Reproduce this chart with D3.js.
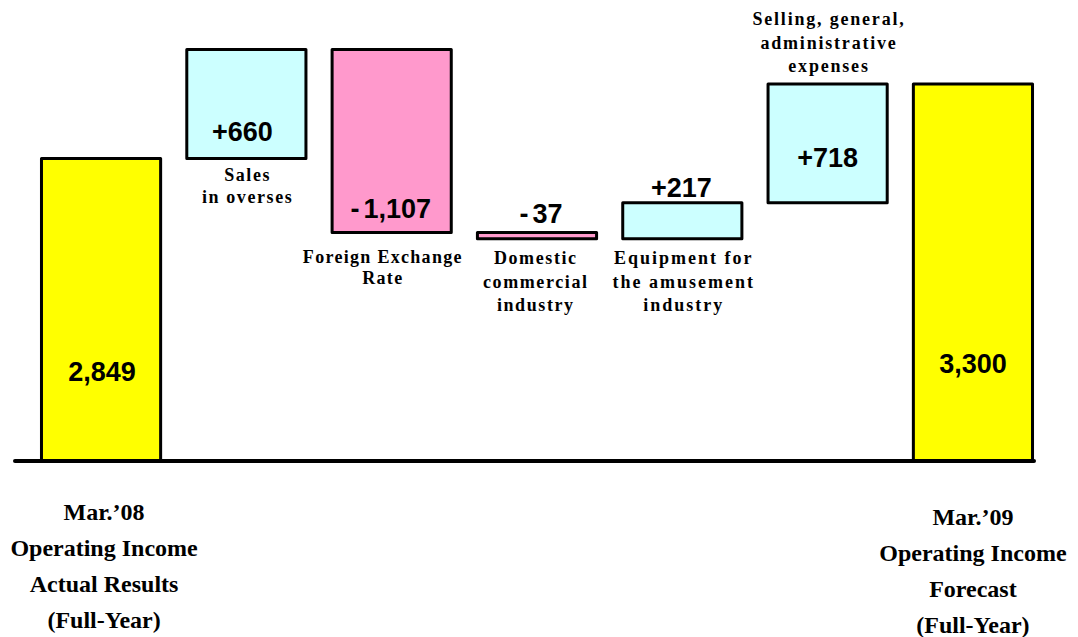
<!DOCTYPE html>
<html>
<head>
<meta charset="utf-8">
<script src="https://cdn.jsdelivr.net/npm/d3@7"></script>
<style>
  html, body { margin: 0; padding: 0; background: #ffffff; }
  svg { display: block; }
</style>
</head>
<body>
<svg id="chart" width="1078" height="637"></svg>
<script>
// Operating income bridge: Mar.'08 actual -> Mar.'09 forecast
const categories = [
  ["Mar.\u201908", "Operating Income", "Actual Results", "(Full-Year)"],
  ["Sales", "in overses"],
  ["Foreign Exchange", "Rate"],
  ["Domestic", "commercial", "industry"],
  ["Equipment for", "the amusement", "industry"],
  ["Selling, general,", "administrative", "expenses"],
  ["Mar.\u201909", "Operating Income", "Forecast", "(Full-Year)"]
];
const values = [2849, 660, -1107, -37, 217, 718, 3300];
const kinds = ["total", "delta", "delta", "delta", "delta", "delta", "total"];

// The value axis is truncated: the baseline stands for this level.
const axisFloor = 1020;

// ---- layout / style ----
const W = 1078, H = 637;
const baselineY = 461;
const fills = { total: "#FFFF00", up: "#CCFFFF", down: "#FF99CC" };
const numFont = "'Liberation Sans', Arial, Helvetica, sans-serif";
const serifFont = "'Liberation Serif', 'Times New Roman', Times, serif";

// value label placement, relative to the bar's bottom or top edge
const valueLabelPos = [
  { at: "bottom", dx: 1, dy: -80 },
  { at: "bottom", dx: -4, dy: -17.5 },
  { at: "bottom", dx: -1, dy: -15 },
  { at: "top", dx: 4, dy: -9.5 },
  { at: "top", dx: -1, dy: -6 },
  { at: "bottom", dx: 0, dy: -36 },
  { at: "bottom", dx: 0, dy: -88 }
];
// category label placement
const catLabelPos = [
  { at: "axis", dx: 3, dy: 59, lh: 36, size: 24, ls: 0 },
  { at: "below", dx: 0.5, dy: 22.5, lh: 22, size: 18, ls: 1.6 },
  { at: "below", dx: -9.5, dy: 30.5, lh: 21, size: 18, ls: 1.3 },
  { at: "below", dx: -2, dy: 25.5, lh: 23.5, size: 18, ls: 1.6 },
  { at: "below", dx: 0.5, dy: 25.5, lh: 23.5, size: 18, ls: 2.0 },
  { at: "above", dx: 0.5, dy: -12, lh: 23.5, size: 18, ls: 1.8 },
  { at: "axis", dx: 0, dy: 64, lh: 36, size: 24, ls: 0 }
];

// running totals -> bar extents
let running = 0;
const bars = values.map((v, i) => {
  let start, end;
  if (kinds[i] === "total") { start = axisFloor; end = v; running = v; }
  else { start = running; end = running + v; running = end; }
  return { i, v, kind: kinds[i], start, end, lo: Math.min(start, end), hi: Math.max(start, end) };
});

const x = d3.scaleBand()
  .domain(d3.range(values.length))
  .range([28.4, 1045.6])
  .paddingInner(0.18)
  .paddingOuter(0.09);

const y = d3.scaleLinear()
  .domain([axisFloor, d3.max(bars, d => d.hi)])
  .range([baselineY, 49.5]);

const svg = d3.select("#chart");
svg.append("rect").attr("width", W).attr("height", H).attr("fill", "#ffffff");

// bars
svg.append("g").selectAll("rect")
  .data(bars)
  .join("rect")
  .attr("x", d => x(d.i))
  .attr("width", x.bandwidth())
  .attr("y", d => y(d.hi))
  .attr("height", d => y(d.lo) - y(d.hi))
  .attr("fill", d => d.kind === "total" ? fills.total : (d.v >= 0 ? fills.up : fills.down))
  .attr("stroke", "#000")
  .attr("stroke-width", 3)
  .attr("stroke-linejoin", "round");

// baseline
svg.append("line")
  .attr("x1", 15).attr("x2", x(values.length - 1) + x.bandwidth() + 1.5)
  .attr("y1", y(axisFloor)).attr("y2", y(axisFloor))
  .attr("stroke", "#000")
  .attr("stroke-width", 4)
  .attr("stroke-linecap", "round");

// value labels
const fmt = d3.format(",");
const vl = svg.append("g").selectAll("text")
  .data(bars)
  .join("text")
  .attr("x", d => x(d.i) + x.bandwidth() / 2 + valueLabelPos[d.i].dx)
  .attr("y", d => (valueLabelPos[d.i].at === "top" ? y(d.hi) : y(d.lo)) + valueLabelPos[d.i].dy)
  .attr("text-anchor", "middle")
  .attr("font-family", numFont)
  .attr("font-weight", "bold")
  .attr("font-size", 27)
  .attr("fill", "#000");
vl.each(function (d) {
  const t = d3.select(this);
  if (d.kind === "total") { t.text(fmt(d.v)); return; }
  if (d.v < 0) {
    t.append("tspan").text("-");
    t.append("tspan").attr("dx", 4).text(fmt(-d.v));
  } else {
    t.text("+" + fmt(d.v));
  }
});

// category labels
svg.append("g").selectAll("text")
  .data(bars)
  .join("text")
  .attr("text-anchor", "middle")
  .attr("font-family", serifFont)
  .attr("font-weight", "bold")
  .attr("fill", "#000")
  .each(function (d) {
    const p = catLabelPos[d.i];
    const lines = categories[d.i];
    const cx = x(d.i) + x.bandwidth() / 2 + p.dx;
    let y0;
    if (p.at === "axis") y0 = y(axisFloor) + p.dy;
    else if (p.at === "below") y0 = y(d.lo) + p.dy;
    else y0 = y(d.hi) + p.dy - (lines.length - 1) * p.lh;
    const t = d3.select(this)
      .attr("font-size", p.size)
      .attr("letter-spacing", p.ls);
    lines.forEach((ln, k) => {
      t.append("tspan")
        .attr("x", cx + p.ls / 2)
        .attr("y", y0 + k * p.lh)
        .text(ln);
    });
  });
</script>
</body>
</html>
